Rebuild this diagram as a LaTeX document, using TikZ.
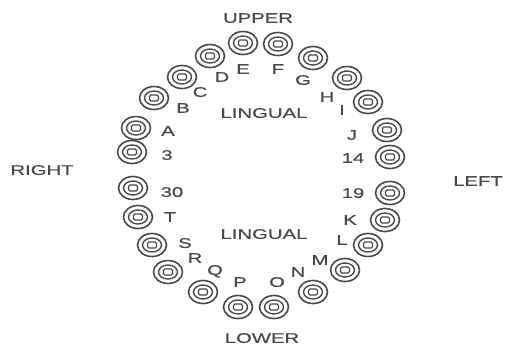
\documentclass[tikz,border=0pt]{standalone}
\usepackage{fontspec}
\newfontfamily\labfont[FakeStretch=1.45,FakeBold=0.6]{Liberation Sans}
\usetikzlibrary{shapes.geometric}
\definecolor{ink}{HTML}{4A4A4A}
\tikzset{
  tooth/.style={ellipse,draw=ink,line width=1.6pt,minimum width=29pt,minimum height=23pt,inner sep=0pt,
    path picture={
      \draw[ink,line width=1.4pt] (path picture bounding box.center) ellipse (9.5pt and 7pt);
      \draw[ink,line width=1.2pt,rounded corners=1.5pt]
        ([xshift=-4.5pt,yshift=-3pt]path picture bounding box.center) rectangle
        ([xshift=4.5pt,yshift=3pt]path picture bounding box.center);}},
  lab/.style={text=ink,font={\labfont\fontsize{14}{16}\selectfont},inner sep=0pt,anchor=center,text depth=0pt}
}
\begin{document}
\begin{tikzpicture}[x=1pt,y=-1pt]
\useasboundingbox (0,0) rectangle (505,349);
% upper arch teeth
\node[tooth] (t3)  at (132,152) {};
\node[tooth] (tA)  at (136,128) {};
\node[tooth] (tB)  at (154,98) {};
\node[tooth] (tC)  at (182,77) {};
\node[tooth] (tD)  at (210,56) {};
\node[tooth] (tE)  at (243,43) {};
\node[tooth] (tF)  at (278,44) {};
\node[tooth] (tG)  at (313,58) {};
\node[tooth] (tH)  at (347,78) {};
\node[tooth] (tI)  at (368,102) {};
\node[tooth] (tJ)  at (387,130) {};
\node[tooth] (t14) at (390,157) {};
% lower arch teeth
\node[tooth] (t19) at (390,193) {};
\node[tooth] (tK)  at (385,220) {};
\node[tooth] (tL)  at (368,245) {};
\node[tooth] (tM)  at (345,270) {};
\node[tooth] (tN)  at (313,292) {};
\node[tooth] (tO)  at (274,307) {};
\node[tooth] (tP)  at (238,307) {};
\node[tooth] (tQ)  at (203,292) {};
\node[tooth] (tR)  at (168,272) {};
\node[tooth] (tS)  at (152,245) {};
\node[tooth] (tT)  at (138,217) {};
\node[tooth] (t30) at (133,188) {};
% tooth labels
\node[lab] (l3)  at (167,155) {3};
\node[lab] (lA)  at (168,131) {A};
\node[lab] (lB)  at (183,108) {B};
\node[lab] (lC)  at (200,92) {C};
\node[lab] (lD)  at (222,77) {D};
\node[lab] (lE)  at (243,69) {E};
\node[lab] (lF)  at (278,69) {F};
\node[lab] (lG)  at (303,80) {G};
\node[lab] (lH)  at (327,97) {H};
\node[lab] (lI)  at (342,110) {I};
\node[lab] (lJ)  at (352,135) {J};
\node[lab] (l14) at (353,158) {14};
\node[lab] (l19) at (353,193) {19};
\node[lab] (lK)  at (350,220) {K};
\node[lab] (lL)  at (342,240) {L};
\node[lab] (lM)  at (320,260) {M};
\node[lab] (lN)  at (298,272) {N};
\node[lab] (lO)  at (277,282) {O};
\node[lab] (lP)  at (240,282) {P};
\node[lab] (lQ)  at (215,270) {Q};
\node[lab] (lR)  at (195,258) {R};
\node[lab] (lS)  at (185,243) {S};
\node[lab] (lT)  at (170,217) {T};
\node[lab] (l30) at (172,192) {30};
% region labels
\node[lab] (upper)  at (258,18) {UPPER};
\node[lab] (lower)  at (262,338) {LOWER};
\node[lab] (ling1)  at (264,113) {LINGUAL};
\node[lab] (ling2)  at (264,234) {LINGUAL};
\node[lab] (right)  at (42,170) {RIGHT};
\node[lab] (left)   at (478,181) {LEFT};
\end{tikzpicture}
\end{document}
